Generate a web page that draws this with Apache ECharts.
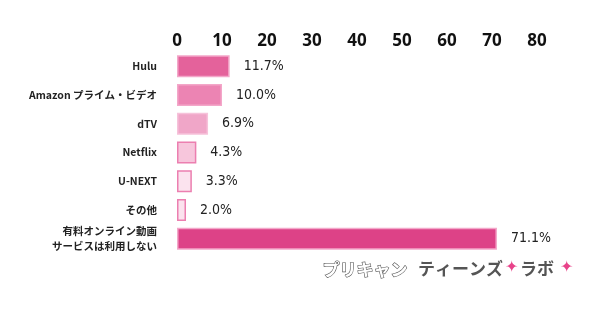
<!DOCTYPE html>
<html><head><meta charset="utf-8">
<script src="https://cdn.jsdelivr.net/npm/echarts@6/dist/echarts.min.js"></script>
<style>html,body{margin:0;padding:0;background:#fff}#c{width:600px;height:315px}</style>
</head><body><div id="c"></div>
<script>
const categories = ['Hulu', 'Amazon プライム・ビデオ', 'dTV', 'Netflix', 'U-NEXT', 'その他', '有料オンライン動画\nサービスは利用しない'];
const values = [11.7, 10.0, 6.9, 4.3, 3.3, 2.0, 71.1];
const fills = ['#e4629b', '#ec84b3', '#f0a6c8', '#f7c6dc', '#fbe3ee', '#fbe3ee', '#dd4287'];
const borders = ['#f3a7c9', '#f3a7c9', '#f6c2da', '#ec7fb0', '#ec7fb0', '#ec7fb0', '#f3a7c9'];
const ticks = [0, 10, 20, 30, 40, 50, 60, 70, 80];

const chart = echarts.init(document.getElementById('c'));
chart.setOption({
  animation: false,
  grid: { left: 177, right: 63, top: 52, bottom: 62, containLabel: false },
  xAxis: {
    type: 'value', position: 'top', min: ticks[0], max: ticks[ticks.length - 1], interval: 10,
    axisLine: { show: false }, axisTick: { show: false }, splitLine: { show: false },
    axisLabel: { color: '#111', fontSize: 17, fontWeight: 'bold', fontFamily: 'Noto Sans', margin: 2 }
  },
  yAxis: {
    type: 'category', data: categories, inverse: true,
    axisLine: { show: false }, axisTick: { show: false },
    axisLabel: { color: '#222', fontSize: 10.5, fontWeight: 'bold', fontFamily: 'Noto Sans CJK JP', margin: 20, lineHeight: 15, align: 'right' }
  },
  series: [{
    type: 'bar', barWidth: 22,
    data: values.map((v, i) => ({ value: v, itemStyle: { color: fills[i], borderColor: borders[i], borderWidth: 1.5 } })),
    label: {
      show: true, position: 'right', distance: 14,
      formatter: p => p.value.toFixed(1) + '%',
      fontFamily: '"DejaVu Sans Condensed", "Liberation Sans Narrow", sans-serif', fontSize: 14, color: '#222'
    }
  }],
  graphic: [
    { type: 'text', left: 322, top: 260, style: { text: 'プリキャン', font: 'bold 17px "Noto Sans CJK JP"', fill: '#fff', stroke: '#555', lineWidth: 1.2, letterSpacing: 2 } },
    { type: 'text', left: 418, top: 260, style: { text: 'ティーンズ', font: 'bold 17px "Noto Sans CJK JP"', fill: '#555', letterSpacing: 1 } },
    { type: 'text', left: 505, top: 260, style: { text: '✦', font: '16px "DejaVu Sans"', fill: '#e8438a' } },
    { type: 'text', left: 520, top: 260, style: { text: 'ラボ', font: 'bold 17px "Noto Sans CJK JP"', fill: '#555', letterSpacing: 2 } },
    { type: 'text', left: 560, top: 260, style: { text: '✦', font: '16px "DejaVu Sans"', fill: '#e8438a' } }
  ]
});
</script></body></html>
